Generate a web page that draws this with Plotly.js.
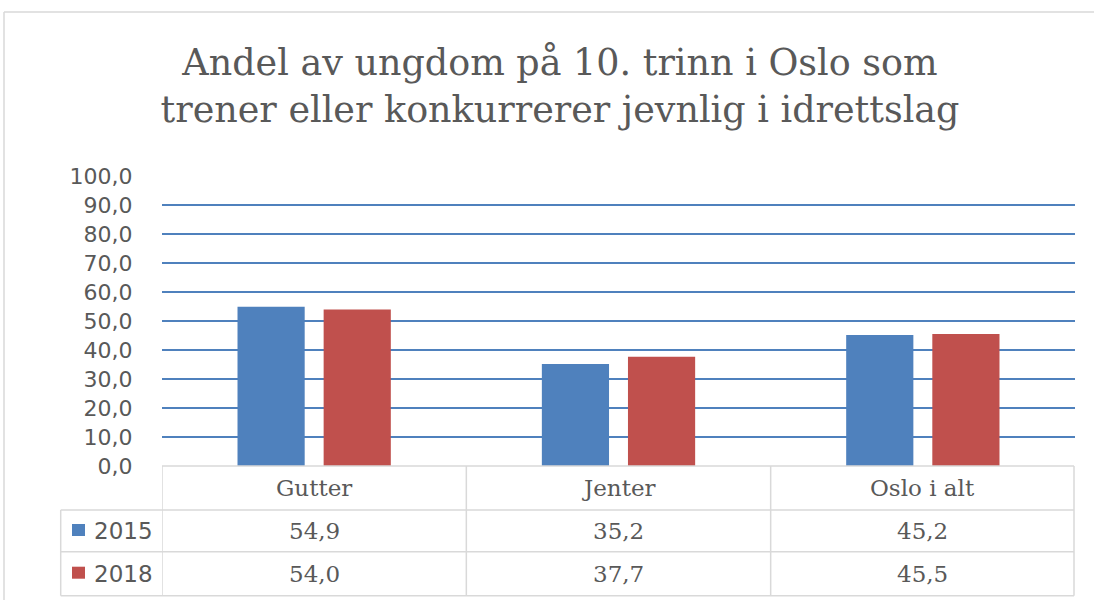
<!DOCTYPE html>
<html><head><meta charset="utf-8">
<script src="https://cdn.plot.ly/plotly-3.0.1.min.js"></script>
<style>html,body{margin:0;padding:0;background:#fff}#chart{width:1094px;height:600px}</style>
</head><body><div id="chart"></div>
<script>
const categories = ["Gutter", "Jenter", "Oslo i alt"];
const seriesNames = ["2015", "2018"];
const values2015 = [54.9, 35.2, 45.2];
const values2018 = [54.0, 37.7, 45.5];
const seriesValues = [values2015, values2018];
const colors = ["#4F81BD", "#C0504D"];

// layout geometry (pixels)
const L = 162, R = 1075, T = 176, B = 466;
const W = R - L, H = B - T;
const px = x => (x - L) / W;
const py = y => (B - y) / H;
const gray = "#595959", lineCol = "#D9D9D9";
const fmt = v => v.toFixed(1).replace(".", ",");

const traces = seriesValues.map((vals, i) => ({
  type: "bar", name: seriesNames[i], x: categories, y: vals,
  marker: {color: colors[i]}, hoverinfo: "skip"
}));

const shapes = [];
const line = (x0, y0, x1, y1, col, w) => shapes.push({type: "line", xref: "paper", yref: "paper",
  x0: x0, y0: y0, x1: x1, y1: y1, line: {color: col, width: w}, layer: "above"});

// outer frame
line(px(4), py(12), px(1200), py(12), lineCol, 1.5);
line(px(4), py(12), px(4), py(700), lineCol, 1.5);

// table rows
const rowLines = [510, 551.7, 595.7];
const leftX = px(60.7);
const rightX = px(1074);
line(0, 0, rightX, 0, lineCol, 1.5);
rowLines.forEach(y => line(leftX, py(y), rightX, py(y), lineCol, 1.5));
// table columns
line(leftX, py(510), leftX, py(595.7), lineCol, 1.5);
line(rightX, 0, rightX, py(595.7), lineCol, 1.5);
for (let k = 0; k < categories.length; k++) {
  shapes.push({type: "line", xref: "x", yref: "paper", x0: k - 0.5, x1: k - 0.5,
    y0: 0, y1: py(595.7), line: {color: lineCol, width: 1.5}, layer: "above"});
}

const annotations = [];
const rowCenters = [531, 573.7];
const cellFont = {family: "DejaVu Serif", size: 23, color: gray};
categories.forEach((c, k) => {
  annotations.push({xref: "x", yref: "paper", x: c, y: py(488), text: c, showarrow: false,
    font: cellFont, xanchor: "center", yanchor: "middle"});
  seriesValues.forEach((vals, i) => {
    annotations.push({xref: "x", yref: "paper", x: c, y: py(rowCenters[i]), text: fmt(vals[k]),
      showarrow: false, font: cellFont, xanchor: "center", yanchor: "middle"});
  });
});
seriesNames.forEach((n, i) => {
  const cy = rowCenters[i] - 1;
  shapes.push({type: "rect", xref: "paper", yref: "paper", x0: px(72), x1: px(85),
    y0: py(cy - 6), y1: py(cy + 6), fillcolor: colors[i], line: {width: 0}, layer: "above"});
  annotations.push({xref: "paper", yref: "paper", x: px(92), y: py(rowCenters[i]), text: n,
    showarrow: false, font: {family: "DejaVu Sans", size: 23, color: gray},
    xanchor: "left", yanchor: "middle"});
});

const layout = {
  width: 1094, height: 600,
  margin: {l: L, r: 1094 - R, t: T, b: 600 - B, pad: 0},
  paper_bgcolor: "#fff", plot_bgcolor: "#fff",
  separators: ", ",
  title: {text: "Andel av ungdom på 10. trinn i Oslo som<br>trener eller konkurrerer jevnlig i idrettslag",
    font: {family: "DejaVu Serif", size: 36.5, color: gray},
    x: 560 / 1094, xanchor: "center", y: 1 - 75 / 600, yanchor: "middle", xref: "container", yref: "container"},
  showlegend: false,
  barmode: "group", bargap: 0.434, bargroupgap: 0.22,
  xaxis: {range: [-0.5, 2.5], showticklabels: false, showgrid: false, zeroline: false,
    showline: false, ticks: "", fixedrange: true},
  yaxis: {range: [0, 100], dtick: 10, tick0: 0, tickformat: ".1f", showgrid: true,
    gridcolor: "#4F81BD", gridwidth: 1.5, zeroline: false, showline: false,
    ticks: "outside", ticklen: 24, tickcolor: "rgba(0,0,0,0)",
    tickfont: {family: "DejaVu Sans", size: 22, color: gray}, fixedrange: true},
  shapes: shapes, annotations: annotations
};
Plotly.newPlot("chart", traces, layout, {displayModeBar: false, staticPlot: true});
</script></body></html>
